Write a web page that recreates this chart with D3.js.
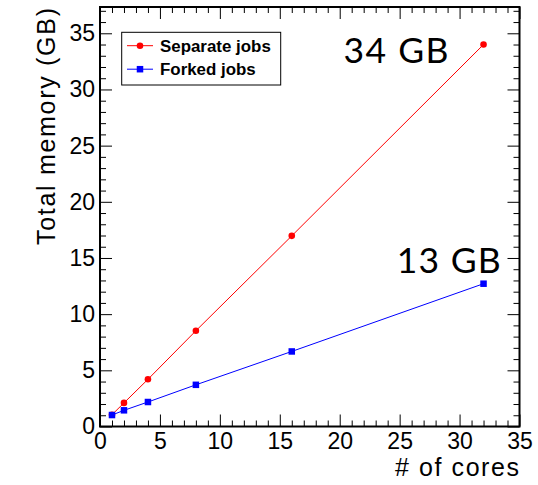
<!DOCTYPE html>
<html>
<head>
<meta charset="utf-8">
<script src="https://cdn.jsdelivr.net/npm/d3@7"></script>
<style>
  html, body { margin: 0; padding: 0; background: #fff; }
  svg { display: block; }
</style>
</head>
<body>
<div id="chart"></div>
<script>
// ---- data ----
const cores = [1, 2, 4, 8, 16, 32];
const separateJobs = [1.05, 2.1, 4.2, 8.52, 16.97, 34.0];
const forkedJobs = [1.02, 1.44, 2.18, 3.71, 6.68, 12.71];
const seriesNames = ["Separate jobs", "Forked jobs"];
const xTicks = [0, 5, 10, 15, 20, 25, 30, 35];
const yTicks = [0, 5, 10, 15, 20, 25, 30, 35];
const annotations = ["34 GB", "13 GB"];
const xTitle = "# of cores";
const yTitle = "Total memory (GB)";

(function () {
// ---- layout ----
const W = 538, H = 485;
const mLeft = 100, mRight = 519.5, mTop = 7, mBottom = 426.5;

const svg = d3.select("#chart").append("svg").attr("width", W).attr("height", H);

const x = d3.scaleLinear().domain([0, 35]).range([mLeft, mRight]);
const y = d3.scaleLinear().domain([0, 37.34]).range([mBottom, mTop]);

const minorX = d3.range(0, 36, 1).filter(v => v % 5 !== 0);
const minorY = d3.range(0, 38, 1).filter(v => v % 5 !== 0);

function styleAxis(g) {
  g.select(".domain").remove();
  g.selectAll(".tick line").attr("stroke", "#000").attr("stroke-width", 1);
}
const FONT = "Liberation Sans, Arial, sans-serif";

// bottom axis (labels)
svg.append("g").attr("transform", `translate(0,${mBottom})`)
  .call(d3.axisBottom(x).tickValues(xTicks).tickSize(-12).tickPadding(6.5).tickFormat(d3.format("d")))
  .call(styleAxis)
  .call(g => g.selectAll("text").attr("font-family", FONT).attr("font-size", 23).attr("fill", "#000"));
svg.append("g").attr("transform", `translate(0,${mBottom})`)
  .call(d3.axisBottom(x).tickValues(minorX).tickSize(-6).tickFormat(""))
  .call(styleAxis);

// top axis
svg.append("g").attr("transform", `translate(0,${mTop})`)
  .call(d3.axisTop(x).tickValues(xTicks).tickSize(-12).tickFormat(""))
  .call(styleAxis);
svg.append("g").attr("transform", `translate(0,${mTop})`)
  .call(d3.axisTop(x).tickValues(minorX).tickSize(-6).tickFormat(""))
  .call(styleAxis);

// left axis (labels)
svg.append("g").attr("transform", `translate(${mLeft},0)`)
  .call(d3.axisLeft(y).tickValues(yTicks).tickSize(-12).tickPadding(5).tickFormat(d3.format("d")))
  .call(styleAxis)
  .call(g => g.selectAll("text").attr("font-family", FONT).attr("font-size", 23).attr("fill", "#000"));
svg.append("g").attr("transform", `translate(${mLeft},0)`)
  .call(d3.axisLeft(y).tickValues(minorY).tickSize(-6).tickFormat(""))
  .call(styleAxis);

// right axis
svg.append("g").attr("transform", `translate(${mRight},0)`)
  .call(d3.axisRight(y).tickValues(yTicks).tickSize(-12).tickFormat(""))
  .call(styleAxis);
svg.append("g").attr("transform", `translate(${mRight},0)`)
  .call(d3.axisRight(y).tickValues(minorY).tickSize(-6).tickFormat(""))
  .call(styleAxis);

// frame
svg.append("rect").attr("x", mLeft).attr("y", mTop)
  .attr("width", mRight - mLeft).attr("height", mBottom - mTop)
  .attr("fill", "none").attr("stroke", "#000").attr("stroke-width", 2);

// series
const line = d3.line().x(d => x(d[0])).y(d => y(d[1]));
const sepData = cores.map((c, i) => [c, separateJobs[i]]);
const forkData = cores.map((c, i) => [c, forkedJobs[i]]);

svg.append("path").datum(sepData).attr("d", line)
  .attr("fill", "none").attr("stroke", "#ff0000").attr("stroke-width", 1);
svg.append("g").selectAll("circle").data(sepData).join("circle")
  .attr("cx", d => x(d[0])).attr("cy", d => y(d[1])).attr("r", 3.3).attr("fill", "#ff0000");

svg.append("path").datum(forkData).attr("d", line)
  .attr("fill", "none").attr("stroke", "#0000ff").attr("stroke-width", 1);
const sq = 6.5;
svg.append("g").selectAll("rect").data(forkData).join("rect")
  .attr("x", d => x(d[0]) - sq / 2).attr("y", d => y(d[1]) - sq / 2)
  .attr("width", sq).attr("height", sq).attr("fill", "#0000ff");

// axis titles
svg.append("text").attr("x", 395).attr("y", 476)
  .attr("font-family", FONT).attr("font-size", 25)
  .attr("textLength", 124).attr("lengthAdjust", "spacing")
  .text(xTitle);
svg.append("text").attr("transform", "translate(55,245) rotate(-90)")
  .attr("font-family", FONT).attr("font-size", 25)
  .attr("textLength", 237).attr("lengthAdjust", "spacing")
  .text(yTitle);

// legend
const lg = svg.append("g");
lg.append("rect").attr("x", 121.7).attr("y", 32.3).attr("width", 159).attr("height", 52.7)
  .attr("fill", "#fff").attr("stroke", "#000").attr("stroke-width", 1);
const rows = [
  { name: seriesNames[0], color: "#ff0000", shape: "circle", cy: 45.7, base: 51.7 },
  { name: seriesNames[1], color: "#0000ff", shape: "square", cy: 69.2, base: 75.2 }
];
rows.forEach(r => {
  lg.append("line").attr("x1", 127).attr("x2", 153).attr("y1", r.cy).attr("y2", r.cy)
    .attr("stroke", r.color).attr("stroke-width", 1);
  if (r.shape === "circle") {
    lg.append("circle").attr("cx", 140).attr("cy", r.cy).attr("r", 3.3).attr("fill", r.color);
  } else {
    lg.append("rect").attr("x", 140 - sq / 2).attr("y", r.cy - sq / 2).attr("width", sq).attr("height", sq).attr("fill", r.color);
  }
  lg.append("text").attr("x", 160).attr("y", r.base)
    .attr("font-family", FONT).attr("font-weight", "bold").attr("font-size", 16.9)
    .text(r.name);
});

// annotations
svg.append("text").attr("x", 343.5).attr("y", 62.5)
  .attr("font-family", "Lato, sans-serif").attr("font-size", 35.5)
  .attr("textLength", 105).attr("lengthAdjust", "spacing")
  .text(annotations[0]);
svg.append("text").attr("x", 396.8).attr("y", 273.3)
  .attr("font-family", "Lato, sans-serif").attr("font-size", 35.5)
  .attr("textLength", 104).attr("lengthAdjust", "spacing")
  .text(annotations[1]);
})();
</script>
</body>
</html>
